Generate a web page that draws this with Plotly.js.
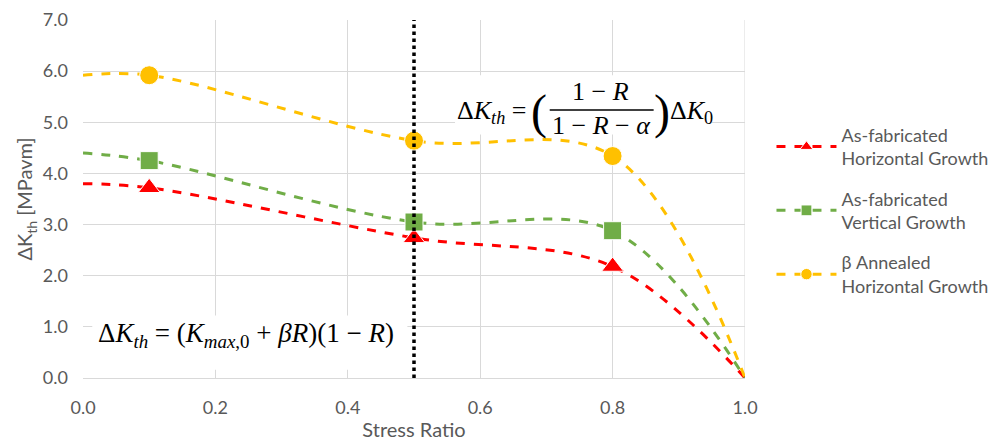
<!DOCTYPE html>
<html><head><meta charset="utf-8">
<script src="https://cdn.plot.ly/plotly-3.0.1.min.js"></script>
<style>html,body{margin:0;padding:0;background:#fff}</style>
</head><body>
<div id="chart" style="width:995px;height:442px"></div>
<script>
// Data
const stressRatio = [0.0, 0.1, 0.5, 0.8, 1.0];
const asFabHorizontal = [3.80, 3.72, 2.74, 2.18, 0.0];
const asFabVertical   = [4.40, 4.25, 3.05, 2.88, 0.0];
const betaAnnealed    = [5.92, 5.92, 4.64, 4.34, 0.0];
const seriesNames = ['As-fabricated<br>Horizontal Growth', 'As-fabricated<br>Vertical Growth', 'β Annealed<br>Horizontal Growth'];
const markerShown = [false, true, true, true, false];
const xTicks = [0.0, 0.2, 0.4, 0.6, 0.8, 1.0];
const yTicks = [0, 1, 2, 3, 4, 5, 6, 7];
const dividerR = 0.5;

const font = 'Lato, "Open Sans", sans-serif';
const grey = '#595959';

function series(name, y, color, symbol, size, group) {
  return {
    x: stressRatio, y: y, name: name, type: 'scatter', mode: 'lines+markers',
    legendgroup: group,
    line: {color: color, width: 3, dash: 'dash', shape: 'spline', smoothing: 1},
    marker: {color: color, symbol: symbol, opacity: 1, size: markerShown.map(s => s ? size : 0)},
    hoverinfo: 'skip'
  };
}

const traces = [
  series(seriesNames[0], asFabHorizontal, '#FF0000', 'triangle-up', 19, 'a'),
  series(seriesNames[1], asFabVertical, '#70AD47', 'square', 18, 'b'),
  series(seriesNames[2], betaAnnealed, '#FFC000', 'circle', 19, 'c')
];

const eqFont = {family: '"Liberation Serif", "DejaVu Serif", serif', size: 26, color: '#000'};

const layout = {
  width: 995, height: 442,
  margin: {l: 83, r: 250, t: 20, b: 64, autoexpand: false},
  paper_bgcolor: '#fff', plot_bgcolor: '#fff',
  showlegend: true,
  legend: {x: 1.04, y: 0.73, xanchor: 'left', yanchor: 'top',
           font: {family: font, size: 18, color: grey},
           tracegroupgap: 14, itemwidth: 60, traceorder: 'grouped'},
  xaxis: {range: [0, 1], tickvals: xTicks, tickformat: '.1f',
          showgrid: true, gridcolor: '#d9d9d9', gridwidth: 1,
          zeroline: false, showline: true, linecolor: '#d9d9d9', linewidth: 1,
          ticks: '', ticklabelstandoff: 13, automargin: false,
          tickfont: {family: font, size: 18, color: grey},
          title: {text: 'Stress Ratio', font: {family: font, size: 20, color: grey}, standoff: 6}},
  yaxis: {range: [0, 7], tickvals: yTicks, tickformat: '.1f',
          showgrid: true, gridcolor: '#d9d9d9', gridwidth: 1,
          zeroline: false, showline: false, automargin: false,
          ticks: '', ticklabelstandoff: 14,
          tickfont: {family: font, size: 18, color: grey},
          title: {text: 'ΔK<sub>th</sub> [MPavm]', font: {family: font, size: 20, color: grey}, standoff: 4}},
  shapes: [
    {type: 'line', xref: 'x', yref: 'paper', x0: 1, x1: 1, y0: 0, y1: 1, line: {color: '#d9d9d9', width: 1}, layer: 'below'},
    {type: 'rect', xref: 'x', yref: 'y', x0: 0.014, x1: 0.49, y0: 0.16, y1: 1.22, fillcolor: '#fff', line: {width: 0}, layer: 'between'},
    {type: 'rect', xref: 'x', yref: 'y', x0: 0.562, x1: 0.95, y0: 4.76, y1: 5.92, fillcolor: '#fff', line: {width: 0}, layer: 'between'},
    {type: 'line', xref: 'x', yref: 'y', x0: dividerR, x1: dividerR, y0: 0, y1: 7, line: {color: '#000', width: 3.5, dash: 'dot'}, layer: 'above'},
    {type: 'line', xref: 'x', yref: 'y', x0: 0.705, x1: 0.862, y0: 5.24, y1: 5.24, line: {color: '#000', width: 1.3}, layer: 'above'}
  ],
  annotations: [
    {xref: 'x', yref: 'y', x: 0.246, y: 0.84, showarrow: false, font: Object.assign({}, eqFont, {size: 27}),
     text: 'Δ<i>K</i><sub><i>th</i></sub> = (<i>K</i><sub><i>max</i>,0</sub> + <i>βR</i>)(1 − <i>R</i>)'},
    {xref: 'x', yref: 'y', x: 0.672, y: 5.2, xanchor: 'right', showarrow: false, font: eqFont,
     text: 'Δ<i>K</i><sub><i>th</i></sub> ='},
    {xref: 'x', yref: 'y', x: 0.689, y: 5.2, showarrow: false, font: Object.assign({}, eqFont, {size: 48}), text: '('},
    {xref: 'x', yref: 'y', x: 0.781, y: 5.6, showarrow: false, font: eqFont, text: '1 − <i>R</i>'},
    {xref: 'x', yref: 'y', x: 0.783, y: 4.94, showarrow: false, font: eqFont, text: '1 − <i>R</i> − <i>α</i>'},
    {xref: 'x', yref: 'y', x: 0.874, y: 5.2, showarrow: false, font: Object.assign({}, eqFont, {size: 48}), text: ')'},
    {xref: 'x', yref: 'y', x: 0.884, y: 5.2, xanchor: 'left', showarrow: false, font: eqFont,
     text: 'Δ<i>K</i><sub>0</sub>'}
  ]
};

Plotly.newPlot('chart', traces, layout, {displayModeBar: false, staticPlot: true});
</script>
</body></html>
